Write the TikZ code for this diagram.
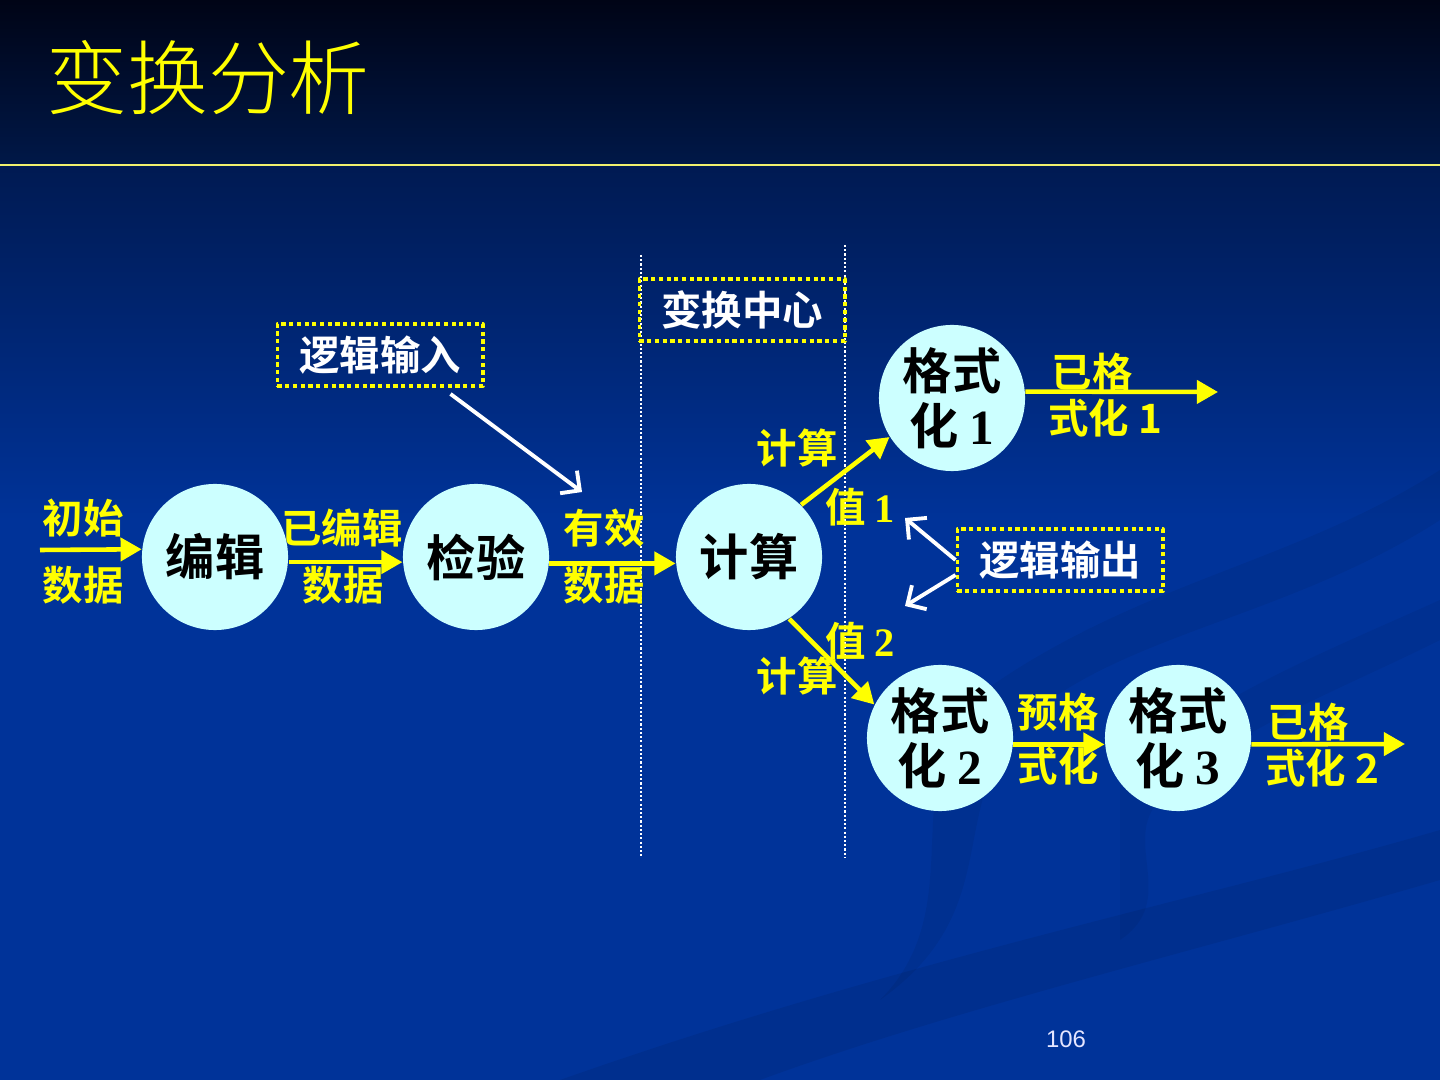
\documentclass[tikz,border=0pt]{standalone}
\usepackage{fontspec}
\usetikzlibrary{arrows.meta}
\setmainfont{Noto Sans CJK SC Bold}
\newfontfamily\titlefont{Noto Sans CJK SC Light}
\newfontfamily\numfont{Liberation Serif Bold}
\newfontfamily\pagefont{Liberation Sans}
\newcommand{\tnum}[1]{{\numfont #1}}

\definecolor{headtop}{RGB}{0,4,22}
\definecolor{headbot}{RGB}{0,24,72}
\definecolor{slidetop}{RGB}{0,26,82}
\definecolor{slidebg}{RGB}{0,51,153}
\definecolor{bubble}{RGB}{204,255,255}
\definecolor{hiyellow}{RGB}{255,255,0}
\definecolor{rule}{RGB}{240,240,110}

\begin{document}
\begin{tikzpicture}[x=0.01cm, y=-0.01cm, line join=round,
    proc/.style={circle, fill=bubble, minimum size=1.46cm, inner sep=0pt,
      text=black, align=center, font=\fontsize{14}{15.5}\selectfont},
    lab/.style={text=hiyellow, inner sep=0pt, align=center,
      font=\fontsize{11.5}{13}\selectfont},
    tagbox/.style={draw=hiyellow, line width=1.1pt, dash pattern=on 1.2pt off 1pt,
      text=white, minimum width=2.05cm, minimum height=0.62cm, inner sep=0pt,
      font=\fontsize{11.5}{13}\selectfont},
    flow/.style={draw=hiyellow, line width=1.3pt,
      -{Triangle[length=6pt, width=6.5pt]}},
    logic/.style={draw=white, line width=1.1pt,
      -{Straight Barb[length=4pt, width=8pt]}},
    sep/.style={draw=white, line width=0.5pt, dash pattern=on 0.6pt off 0.6pt}]

  % Background
  \useasboundingbox (0,0) rectangle (1440,1080);
  \shade[top color=headtop, bottom color=headbot] (0,0) rectangle (1440,165);
  \shade[top color=slidetop, bottom color=slidebg] (0,165) rectangle (1440,520);
  \fill[slidebg] (0,520) rectangle (1440,1080);
  % faint swirls
  \fill[black, opacity=0.07] (560,1080) .. controls (900,960) and (1200,900) .. (1440,830)
    -- (1440,880) .. controls (1200,950) and (950,1010) .. (760,1080) -- cycle;
  \fill[black, opacity=0.06] (880,1000) .. controls (980,900) and (880,760) .. (1000,680)
    .. controls (1150,580) and (1300,560) .. (1440,470) -- (1440,520)
    .. controls (1300,610) and (1150,630) .. (1050,700)
    .. controls (930,790) and (1020,900) .. (880,1000) -- cycle;
  \fill[black, opacity=0.05] (1120,780) .. controls (1200,700) and (1330,650) .. (1440,600)
    -- (1440,640) .. controls (1340,690) and (1230,730) .. (1160,800)
    .. controls (1120,840) and (1180,900) .. (1120,940) -- cycle;

  % Title and rule
  \node[text=hiyellow, inner sep=0pt, font=\titlefont\fontsize{23}{23}\selectfont]
    (title) at (208,78) {变换分析};
  \draw[rule, line width=0.8pt] (0,165) -- (1440,165);

  % Transform centre borders
  \draw[sep] (641,255) -- (641,858);
  \draw[sep] (845,245) -- (845,858);

  % Processes
  \node[proc] (bianji)  at (215,557) {编辑};
  \node[proc] (jianyan) at (476,557) {检验};
  \node[proc] (jisuan)  at (749,557) {计算};
  \node[proc] (fmt1)    at (952,398) {格式\\化 \tnum{1}};
  \node[proc] (fmt2)    at (940,738) {格式\\化 \tnum{2}};
  \node[proc] (fmt3)    at (1178,738) {格式\\化 \tnum{3}};

  % Tags
  \node[tagbox] (centre) at (742,310) {变换中心};
  \node[tagbox] (login)  at (380,355) {逻辑输入};
  \node[tagbox] (logout) at (1060,560) {逻辑输出};

  % Free ends
  \coordinate (src)  at (40,550);
  \coordinate (out1) at (1218,392);
  \coordinate (out2) at (1405,744);
  \coordinate (intip) at (582,492);
  \coordinate (v1tip) at (905,518);
  \coordinate (v2tip) at (905,606);

  % Data flows
  \draw[flow] (src) -- (bianji.174);
  \draw[flow] (bianji.-4) -- (jianyan.184);
  \draw[flow] (jianyan.-5) -- (jisuan.185);
  \draw[flow] (jisuan.45) -- (fmt1.212);
  \draw[flow] (jisuan.-57) -- (fmt2.153);
  \draw[flow] (fmt1.5) -- (out1);
  \draw[flow] (fmt2.-5) -- (fmt3.185);
  \draw[flow] (fmt3.-5) -- (out2);

  % Logic input / output arrows
  \draw[logic] ([xshift=-0.34cm, yshift=-0.06cm]login.south east) -- (intip);
  \draw[logic] (logout.west) -- (v1tip);
  \draw[logic] ([yshift=-0.15cm]logout.west) -- (v2tip);

  % Flow labels
  \node[lab] (l1a) at (83,518) {初始};
  \node[lab] (l1b) at (83,585) {数据};
  \node[lab] (l2a) at (342,528) {已编辑};
  \node[lab] (l2b) at (343,585) {数据};
  \node[lab] (l3a) at (604,528) {有效};
  \node[lab] (l3b) at (604,585) {数据};
  \node[lab] (l4a) at (797,448) {计算};
  \node[lab] (l4b) at (860,507) {值 \tnum{1}};
  \node[lab] (l5a) at (860,641) {值 \tnum{2}};
  \node[lab] (l5b) at (797,676) {计算};
  \node[lab] (l6a) at (1092,372) {已格};
  \node[lab] (l6b) at (1105,418) {式化 1};
  \node[lab] (l7a) at (1058,712) {预格};
  \node[lab] (l7b) at (1058,766) {式化};
  \node[lab] (l8a) at (1308,722) {已格};
  \node[lab] (l8b) at (1322,768) {式化 2};

  % Page number
  \node[text=white!90!blue, inner sep=0pt, font=\pagefont\fontsize{6.8}{8}\selectfont]
    (page) at (1066,1039) {106};

\end{tikzpicture}
\end{document}
